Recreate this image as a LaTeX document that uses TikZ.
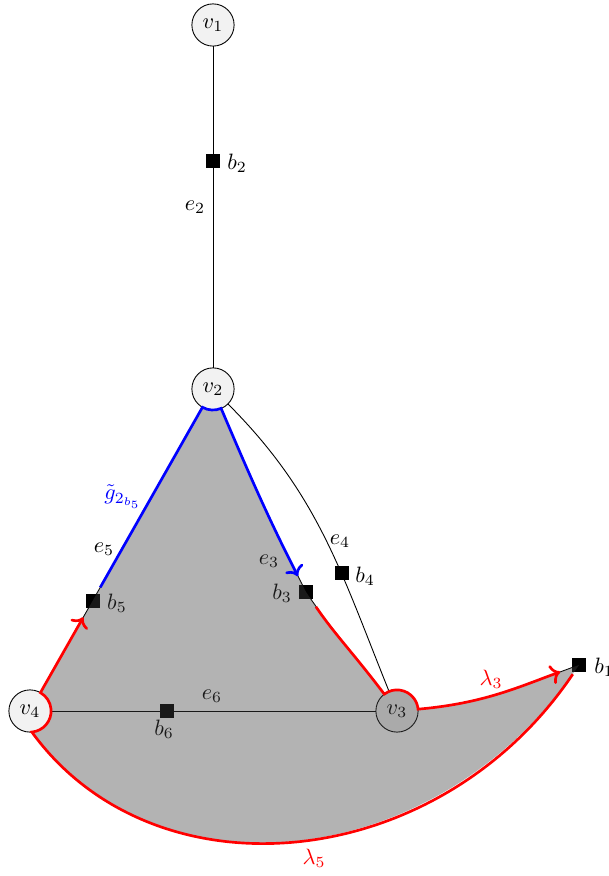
\documentclass[tikz,border=0pt]{standalone}
\usetikzlibrary{calc,arrows.meta}
\begin{document}
\begin{tikzpicture}[x=0.45pt,y=0.45pt,
  vtx/.style={circle,draw,fill=gray!10,minimum size=19pt,inner sep=0pt,outer sep=0pt},
  sq/.style={rectangle,fill=black,minimum size=6.3pt,inner sep=0pt},
  lab/.style={inner sep=0pt},
  thinedge/.style={draw=black,line width=0.4pt},
  bound/.style={line width=1.2pt},
  region/.style={fill=black!75,fill opacity=0.4}]
\useasboundingbox (0,0) rectangle (608,-876);
% vertices
\node[vtx] (v1) at (213,-25) {$v_1$};
\node[vtx] (v2) at (213,-389) {$v_2$};
\node[vtx] (v3) at (397,-711) {$v_3$};
\node[vtx] (v4) at (30,-711) {$v_4$};
% squares
\node[sq] (b2) at (213,-161) {};
\node[sq] (b6) at (167,-711) {};
\node[sq] (b1) at (579,-665) {};
\node[sq] (b3) at (306,-592) {};
\node[sq] (b5) at ($(v4)!0.342!(v2)$) {};
% thin edges
\draw[thinedge] (v1) -- (v2);
\draw[thinedge] (v2) -- (v4);
\draw[thinedge] (v4) -- (v3);
\draw[thinedge] (v2) to[out=-45,in=112] node[sq,pos=0.63] (b4) {} (v3);
\draw[thinedge] (v2) to[out=-67,in=117] (b3.center) to[out=-56,in=127] (v3);
\draw[thinedge] (v3) to[out=5,in=-160] (b1.center);
% black labels
\node[lab] (lb2) at (237,-163) {$b_2$};
\node[lab] (le2) at (195,-207) {$e_2$};
\node[lab] (le5) at (104,-549) {$e_5$};
\node[lab] (lb5) at (117,-603) {$b_5$};
\node[lab] (le3) at (269,-561) {$e_3$};
\node[lab] (lb3) at (282,-593) {$b_3$};
\node[lab] (le4) at (340,-541) {$e_4$};
\node[lab] (lb4) at (365,-576) {$b_4$};
\node[lab] (lb1) at (604,-667) {$b_1$};
\node[lab] (le6) at (212,-696) {$e_6$};
\node[lab] (lb6) at (164,-729) {$b_6$};
% shaded region
\fill[region] (v2.240.4) -- (v4.60.4) arc[start angle=60.4,end angle=-85,radius=9.5pt]
  to[out=-54,in=-124,out looseness=0.97,in looseness=1.18] (b1.center)
  to[out=-160,in=5] (v3.5) arc[start angle=5,end angle=127,radius=9.5pt]
  to[out=127,in=-56] (b3.center) to[out=117,in=-67] (v2.-67)
  arc[start angle=293,end angle=240.4,radius=9.5pt] -- cycle;
% coloured boundary
\draw[blue,bound,->,shorten >=8pt] ($(b5.center)!7pt!(v2.center)$) -- (v2.240.4)
  arc[start angle=240.4,end angle=293,radius=9.5pt] to[out=-67,in=117] (b3.center);
\draw[red,bound,->,shorten <=8pt,shorten >=9pt] (b3.center) to[out=-56,in=127] (v3.127)
  arc[start angle=127,end angle=5,radius=9.5pt] to[out=5,in=-160] (b1.center);
\draw[red,bound,->,shorten <=5pt,shorten >=8.5pt] (b1.center)
  to[out=-124,in=-54,out looseness=1.18,in looseness=0.97] (v4.-85)
  arc[start angle=-85,end angle=60.4,radius=9.5pt] -- (b5.center);
% coloured labels
\node[lab,text=blue] (lg) at (123,-497) {$\tilde{g}_{2_{b_5}}$};
\node[lab,text=red] (ll3) at (491,-679) {$\lambda_3$};
\node[lab,text=red] (ll5) at (314,-858) {$\lambda_5$};
\end{tikzpicture}
\end{document}
